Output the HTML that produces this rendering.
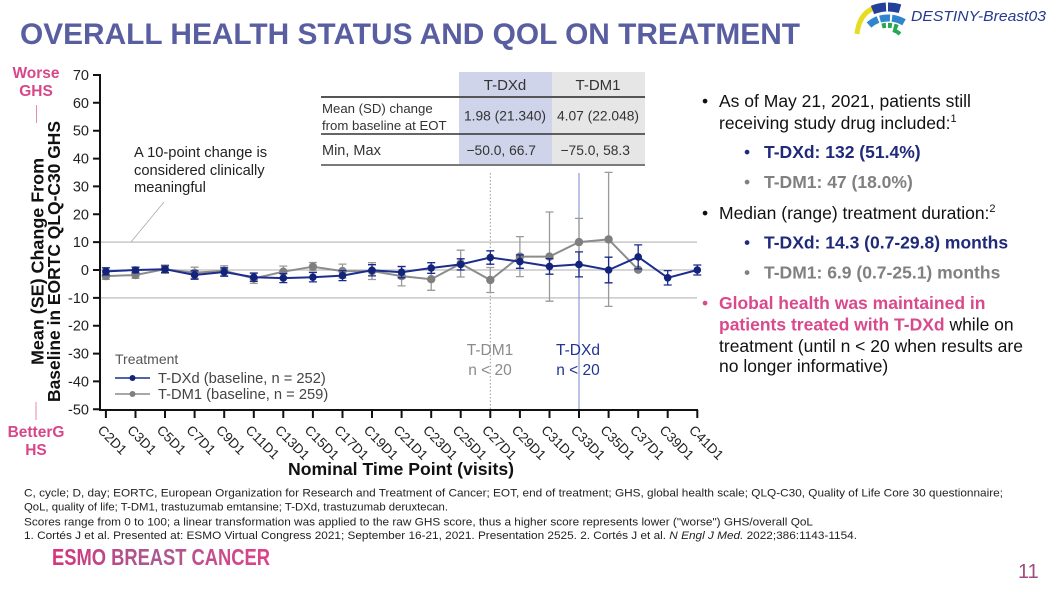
<!DOCTYPE html>
<html><head><meta charset="utf-8">
<style>
html,body{margin:0;padding:0;background:#fff;width:1054px;height:591px;overflow:hidden}
svg{display:block}
text{font-family:"Liberation Sans",Arial,sans-serif}
</style></head>
<body>
<svg width="1054" height="591" viewBox="0 0 1054 591" xmlns="http://www.w3.org/2000/svg">
<defs>
<linearGradient id="esmo" x1="0" x2="1" y1="0" y2="0">
<stop offset="0" stop-color="#d8327a"/>
<stop offset="0.45" stop-color="#a85a92"/>
<stop offset="1" stop-color="#e0408a"/>
</linearGradient>
</defs>
<rect width="1054" height="591" fill="#fff"/>

<!-- Title -->
<text x="20" y="44" font-size="30" font-weight="bold" fill="#585ea0" textLength="780" lengthAdjust="spacingAndGlyphs">OVERALL HEALTH STATUS AND QOL ON TREATMENT</text>

<!-- Logo -->
<path d="M857,34 Q859,14 874,8" stroke="#e6dd22" stroke-width="5" fill="none"/>
<g fill="none">
<path d="M872.5,10 A43,43 0 0 1 886,7" stroke="#23409a" stroke-width="9"/>
<path d="M888,7 A43,43 0 0 1 900,8.7" stroke="#23409a" stroke-width="9"/>
<path d="M869,25 A32,32 0 0 1 878,19.5" stroke="#2f86cf" stroke-width="7"/>
<path d="M880,19 A32,32 0 0 1 890,18" stroke="#2f86cf" stroke-width="7"/>
<path d="M892,18.2 A32,32 0 0 1 904,22.3" stroke="#2f86cf" stroke-width="7"/>
<path d="M882,26 A25,25 0 0 1 899,28" stroke="#27a855" stroke-width="5" stroke-dasharray="4,2"/>
<path d="M893,30 A20,20 0 0 1 900,34" stroke="#27a855" stroke-width="4"/>
</g>
<text x="911" y="21" font-size="14.5" font-style="italic" fill="#22398f" textLength="135" lengthAdjust="spacingAndGlyphs">DESTINY-Breast03</text>

<!-- Worse / Better labels -->
<text x="36" y="78" font-size="15.5" font-weight="bold" fill="#d6478a" text-anchor="middle">Worse</text>
<text x="36" y="96" font-size="15.5" font-weight="bold" fill="#d6478a" text-anchor="middle">GHS</text>
<line x1="36.5" y1="105" x2="36.5" y2="123" stroke="#e58ab4" stroke-width="1"/>
<line x1="36" y1="402" x2="36" y2="420" stroke="#e58ab4" stroke-width="1"/>
<text x="36" y="437" font-size="15.5" font-weight="bold" fill="#d6478a" text-anchor="middle">BetterG</text>
<text x="36" y="455" font-size="15.5" font-weight="bold" fill="#d6478a" text-anchor="middle">HS</text>

<!-- Y axis title -->
<text transform="translate(43.5,261.5) rotate(-90)" font-size="17.5" font-weight="bold" fill="#111" text-anchor="middle" textLength="207" lengthAdjust="spacingAndGlyphs">Mean (SE) Change From</text>
<text transform="translate(60,261.5) rotate(-90)" font-size="17.5" font-weight="bold" fill="#111" text-anchor="middle" textLength="281" lengthAdjust="spacingAndGlyphs">Baseline in EORTC QLQ-C30 GHS</text>

<!-- Reference lines -->
<g stroke="#c8c8c8" stroke-width="1.5">
<line x1="100" y1="242.1" x2="697" y2="242.1"/>
<line x1="100" y1="270" x2="697" y2="270"/>
<line x1="100" y1="297.9" x2="697" y2="297.9"/>
</g>
<line x1="490.3" y1="173" x2="490.3" y2="410" stroke="#999" stroke-width="1" stroke-dasharray="1.5,2"/>
<line x1="579" y1="173" x2="579" y2="410" stroke="#8c9bd2" stroke-width="1.2"/>

<!-- annotation -->
<line x1="131" y1="242" x2="164" y2="202" stroke="#aaa" stroke-width="0.8"/>
<g font-size="14.7" fill="#222">
<text x="134" y="157">A 10-point change is</text>
<text x="134" y="175">considered clinically</text>
<text x="134" y="192">meaningful</text>
</g>

<!-- Axes -->
<g stroke="#111" stroke-width="2" fill="none">
<line x1="100" y1="74" x2="100" y2="410.5"/>
<line x1="99" y1="410" x2="698" y2="410"/>
<path d="M93 75H100M93 102.8H100M93 130.7H100M93 158.6H100M93 186.4H100M93 214.3H100M93 242.1H100M93 270H100M93 297.9H100M93 325.7H100M93 353.6H100M93 381.4H100M93 409.3H100"/>
<path d="M105.9 410V418M135.5 410V418M165 410V418M194.6 410V418M224.2 410V418M253.8 410V418M283.3 410V418M312.9 410V418M342.5 410V418M372 410V418M401.6 410V418M431.2 410V418M460.7 410V418M490.3 410V418M519.9 410V418M549.5 410V418M579 410V418M608.6 410V418M638.2 410V418M667.7 410V418M697.3 410V418"/>
</g>
<g font-size="14.5" fill="#222" text-anchor="end">
<text x="89" y="80">70</text>
<text x="89" y="107.8">60</text>
<text x="89" y="135.7">50</text>
<text x="89" y="163.6">40</text>
<text x="89" y="191.4">30</text>
<text x="89" y="219.3">20</text>
<text x="89" y="247.1">10</text>
<text x="89" y="275">0</text>
<text x="89" y="302.9">-10</text>
<text x="89" y="330.7">-20</text>
<text x="89" y="358.6">-30</text>
<text x="89" y="386.4">-40</text>
<text x="89" y="414.3">-50</text>
</g>

<!-- X labels -->
<g font-size="13.5" fill="#222">
<text transform="translate(96.9,431) rotate(45)">C2D1</text>
<text transform="translate(126.5,431) rotate(45)">C3D1</text>
<text transform="translate(156,431) rotate(45)">C5D1</text>
<text transform="translate(185.6,431) rotate(45)">C7D1</text>
<text transform="translate(215.2,431) rotate(45)">C9D1</text>
<text transform="translate(244.8,431) rotate(45)">C11D1</text>
<text transform="translate(274.3,431) rotate(45)">C13D1</text>
<text transform="translate(303.9,431) rotate(45)">C15D1</text>
<text transform="translate(333.5,431) rotate(45)">C17D1</text>
<text transform="translate(363,431) rotate(45)">C19D1</text>
<text transform="translate(392.6,431) rotate(45)">C21D1</text>
<text transform="translate(422.2,431) rotate(45)">C23D1</text>
<text transform="translate(451.7,431) rotate(45)">C25D1</text>
<text transform="translate(481.3,431) rotate(45)">C27D1</text>
<text transform="translate(510.9,431) rotate(45)">C29D1</text>
<text transform="translate(540.5,431) rotate(45)">C31D1</text>
<text transform="translate(570,431) rotate(45)">C33D1</text>
<text transform="translate(599.6,431) rotate(45)">C35D1</text>
<text transform="translate(629.2,431) rotate(45)">C37D1</text>
<text transform="translate(658.7,431) rotate(45)">C39D1</text>
<text transform="translate(688.3,431) rotate(45)">C41D1</text>
</g>
<text x="401" y="475" font-size="17.5" font-weight="bold" fill="#111" text-anchor="middle" textLength="226" lengthAdjust="spacingAndGlyphs">Nominal Time Point (visits)</text>

<!-- Grey series -->
<path fill="none" stroke="#9a9a9a" stroke-width="1.3" d="M105.9 272.8V279.4M101.9 272.8h8M101.9 279.4h8M135.5 271.7V278.3M131.5 271.7h8M131.5 278.3h8M165 265V273.4M161 265h8M161 273.4h8M194.6 267.2V278.4M190.6 267.2h8M190.6 278.4h8M224.2 265.8V275.8M220.2 265.8h8M220.2 275.8h8M253.8 273.4V283.4M249.8 273.4h8M249.8 283.4h8M283.3 266.1V277.3M279.3 266.1h8M279.3 277.3h8M312.9 262.5V270.9M308.9 262.5h8M308.9 270.9h8M342.5 264.1V278.1M338.5 264.1h8M338.5 278.1h8M372 262.7V279.5M368 262.7h8M368 279.5h8M401.6 266.3V285.9M397.6 266.3h8M397.6 285.9h8M431.2 268.1V290.3M427.2 268.1h8M427.2 290.3h8M460.7 250.2V277M456.7 250.2h8M456.7 277h8M490.3 267.5V292.5M486.3 267.5h8M486.3 292.5h8M519.9 236.6V276.6M515.9 236.6h8M515.9 276.6h8M549.5 212V301.2M545.5 212h8M545.5 301.2h8M579 218.4V265.8M575 218.4h8M575 265.8h8M608.6 172.4V306.4M604.6 172.4h8M604.6 306.4h8"/>
<polyline fill="none" stroke="#8c8c8c" stroke-width="2" points="105.9,276.1 135.5,275.0 165.0,269.2 194.6,272.8 224.2,270.8 253.8,278.4 283.3,271.7 312.9,266.7 342.5,271.1 372.0,271.1 401.6,276.1 431.2,279.2 460.7,263.6 490.3,280.0 519.9,256.6 549.5,256.6 579.0,242.1 608.6,239.4 638.2,269.7"/>
<g fill="#7f7f7f">
<circle cx="105.9" cy="276.1" r="4.2"/><circle cx="135.5" cy="275" r="4.2"/><circle cx="165" cy="269.2" r="4.2"/><circle cx="194.6" cy="272.8" r="4.2"/><circle cx="224.2" cy="270.8" r="4.2"/><circle cx="253.8" cy="278.4" r="4.2"/><circle cx="283.3" cy="271.7" r="4.2"/><circle cx="312.9" cy="266.7" r="4.2"/><circle cx="342.5" cy="271.1" r="4.2"/><circle cx="372" cy="271.1" r="4.2"/><circle cx="401.6" cy="276.1" r="4.2"/><circle cx="431.2" cy="279.2" r="4.2"/><circle cx="460.7" cy="263.6" r="4.2"/><circle cx="490.3" cy="280" r="4.2"/><circle cx="519.9" cy="256.6" r="4.2"/><circle cx="549.5" cy="256.6" r="4.2"/><circle cx="579" cy="242.1" r="4.2"/><circle cx="608.6" cy="239.4" r="4.2"/><circle cx="638.2" cy="269.7" r="4.2"/>
</g>

<!-- Blue series -->
<path fill="none" stroke="#1a2a8a" stroke-width="1.3" d="M105.9 267.8V275M101.9 267.8h8M101.9 275h8M135.5 267.2V272.8M131.5 267.2h8M131.5 272.8h8M165 265.9V272.5M161 265.9h8M161 272.5h8M194.6 270.8V279.2M190.6 270.8h8M190.6 279.2h8M224.2 267.8V276.2M220.2 267.8h8M220.2 276.2h8M253.8 273V281.4M249.8 273h8M249.8 281.4h8M283.3 273.6V282.6M279.3 273.6h8M279.3 282.6h8M312.9 272.5V281.9M308.9 272.5h8M308.9 281.9h8M342.5 270.6V280.6M338.5 270.6h8M338.5 280.6h8M372 264.7V275.9M368 264.7h8M368 275.9h8M401.6 266.6V277.8M397.6 266.6h8M397.6 277.8h8M431.2 262.7V273.3M427.2 262.7h8M427.2 273.3h8M460.7 258.8V270M456.7 258.8h8M456.7 270h8M490.3 250.8V264.2M486.3 250.8h8M486.3 264.2h8M519.9 254.9V268.3M515.9 254.9h8M515.9 268.3h8M549.5 258.6V274.2M545.5 258.6h8M545.5 274.2h8M579 251.9V276.9M575 251.9h8M575 276.9h8M608.6 257.2V282.8M604.6 257.2h8M604.6 282.8h8M638.2 244.9V268.9M634.2 244.9h8M634.2 268.9h8M667.7 270.6V285M663.7 270.6h8M663.7 285h8M697.3 265V275M693.3 265h8M693.3 275h8"/>
<polyline fill="none" stroke="#1c2d8f" stroke-width="2" points="105.9,271.4 135.5,270 165.0,269.2 194.6,275.0 224.2,272.0 253.8,277.2 283.3,278.1 312.9,277.2 342.5,275.6 372.0,270.3 401.6,272.2 431.2,268.0 460.7,264.4 490.3,257.5 519.9,261.6 549.5,266.4 579.0,264.4 608.6,270 638.2,256.9 667.7,277.8 697.3,270"/>
<g fill="#14237a">
<circle cx="105.9" cy="271.4" r="3.8"/><circle cx="135.5" cy="270" r="3.8"/><circle cx="165" cy="269.2" r="3.8"/><circle cx="194.6" cy="275" r="3.8"/><circle cx="224.2" cy="272" r="3.8"/><circle cx="253.8" cy="277.2" r="3.8"/><circle cx="283.3" cy="278.1" r="3.8"/><circle cx="312.9" cy="277.2" r="3.8"/><circle cx="342.5" cy="275.6" r="3.8"/><circle cx="372" cy="270.3" r="3.8"/><circle cx="401.6" cy="272.2" r="3.8"/><circle cx="431.2" cy="268" r="3.8"/><circle cx="460.7" cy="264.4" r="3.8"/><circle cx="490.3" cy="257.5" r="3.8"/><circle cx="519.9" cy="261.6" r="3.8"/><circle cx="549.5" cy="266.4" r="3.8"/><circle cx="579" cy="264.4" r="3.8"/><circle cx="608.6" cy="270" r="3.8"/><circle cx="638.2" cy="256.9" r="3.8"/><circle cx="667.7" cy="277.8" r="3.8"/><circle cx="697.3" cy="270" r="3.8"/>
</g>

<!-- n<20 labels -->
<g font-size="15.5" text-anchor="middle">
<text x="490" y="355" fill="#8a8a8a">T-DM1</text>
<text x="490" y="375" fill="#8a8a8a">n &lt; 20</text>
<text x="578" y="355" fill="#1f3590">T-DXd</text>
<text x="578" y="375" fill="#1f3590">n &lt; 20</text>
</g>

<!-- Legend -->
<text x="115" y="364" font-size="14" fill="#555">Treatment</text>
<line x1="115" y1="378" x2="150" y2="378" stroke="#1c2d8f" stroke-width="1.5"/>
<circle cx="132.5" cy="378" r="3" fill="#14237a"/>
<line x1="115" y1="394" x2="150" y2="394" stroke="#8c8c8c" stroke-width="1.5"/>
<circle cx="132.5" cy="394" r="3" fill="#7f7f7f"/>
<text x="158" y="383" font-size="14.7" fill="#444">T-DXd (baseline, n = 252)</text>
<text x="158" y="399" font-size="14.7" fill="#444">T-DM1 (baseline, n = 259)</text>

<!-- Table -->
<rect x="459" y="72" width="93" height="94" fill="#cfd4ea"/>
<rect x="552" y="72" width="93" height="94" fill="#e6e6e6"/>
<line x1="321" y1="97" x2="645" y2="97" stroke="#555" stroke-width="2"/>
<line x1="321" y1="134" x2="645" y2="134" stroke="#333" stroke-width="1.5"/>
<line x1="321" y1="165" x2="645" y2="165" stroke="#7a7a7a" stroke-width="2"/>
<g fill="#333">
<text x="505" y="90" font-size="15" text-anchor="middle">T-DXd</text>
<text x="598" y="90" font-size="15" text-anchor="middle">T-DM1</text>
<text x="322" y="113" font-size="13.2">Mean (SD) change</text>
<text x="322" y="130" font-size="13.2">from baseline at EOT</text>
<text x="505" y="120.5" font-size="13.8" text-anchor="middle">1.98 (21.340)</text>
<text x="598" y="120.5" font-size="13.8" text-anchor="middle">4.07 (22.048)</text>
<text x="322" y="155" font-size="14.5">Min, Max</text>
<text x="466.5" y="155" font-size="13.8">−50.0, 66.7</text>
<text x="560.5" y="155" font-size="13.8">−75.0, 58.3</text>
</g>

<!-- Right panel -->
<g font-size="17.5">
<text x="702" y="107" fill="#111">•</text>
<text x="719" y="107" fill="#111">As of May 21, 2021, patients still</text>
<text x="719" y="129" fill="#111">receiving study drug included:<tspan font-size="11" dy="-7">1</tspan></text>
<text x="744" y="158" fill="#1f2a7a">•</text>
<text x="764" y="158" fill="#1f2a7a" font-weight="bold">T-DXd: 132 (51.4%)</text>
<text x="744" y="188" fill="#808080">•</text>
<text x="764" y="188" fill="#808080" font-weight="bold">T-DM1: 47 (18.0%)</text>
<text x="702" y="219" fill="#111">•</text>
<text x="719" y="219" fill="#111">Median (range) treatment duration:<tspan font-size="11" dy="-7">2</tspan></text>
<text x="744" y="248.5" fill="#1f2a7a">•</text>
<text x="764" y="248.5" fill="#1f2a7a" font-weight="bold">T-DXd: 14.3 (0.7-29.8) months</text>
<text x="744" y="278.5" fill="#808080">•</text>
<text x="764" y="278.5" fill="#808080" font-weight="bold">T-DM1: 6.9 (0.7-25.1) months</text>
<text x="702" y="309" fill="#d94a8c">•</text>
<text x="719" y="309" fill="#d94a8c" font-weight="bold">Global health was maintained in</text>
<text x="719" y="330.5"><tspan fill="#d94a8c" font-weight="bold">patients treated with T-DXd</tspan><tspan fill="#111"> while on</tspan></text>
<text x="719" y="352" fill="#111">treatment (until n &lt; 20 when results are</text>
<text x="719" y="372" fill="#111">no longer informative)</text>
</g>

<!-- Footer -->
<g font-size="10.7" fill="#222">
<text x="24" y="496.5" textLength="979" lengthAdjust="spacingAndGlyphs">C, cycle; D, day; EORTC, European Organization for Research and Treatment of Cancer; EOT, end of treatment; GHS, global health scale; QLQ-C30, Quality of Life Core 30 questionnaire;</text>
<text x="24" y="510.5" textLength="424" lengthAdjust="spacingAndGlyphs">QoL, quality of life; T-DM1, trastuzumab emtansine; T-DXd, trastuzumab deruxtecan.</text>
<text x="24" y="525.5" textLength="789" lengthAdjust="spacingAndGlyphs">Scores range from 0 to 100; a linear transformation was applied to the raw GHS score, thus a higher score represents lower ("worse") GHS/overall QoL</text>
<text x="24" y="539" textLength="833" lengthAdjust="spacingAndGlyphs">1. Cortés J et al. Presented at: ESMO Virtual Congress 2021; September 16-21, 2021. Presentation 2525. 2. Cortés J et al. <tspan font-style="italic">N Engl J Med.</tspan> 2022;386:1143-1154.</text>
</g>

<text x="52" y="565" font-size="23" font-weight="bold" fill="url(#esmo)" textLength="218" lengthAdjust="spacingAndGlyphs">ESMO BREAST CANCER</text>
<text x="1018" y="578" font-size="20" fill="#a04c80">11</text>
</svg>
</body></html>
